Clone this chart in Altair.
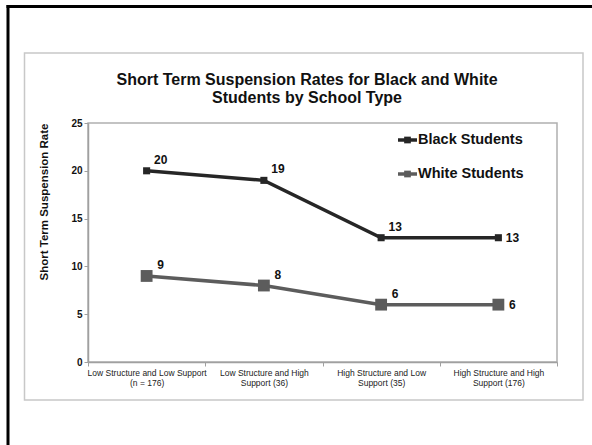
import altair as alt
import pandas as pd

# School-type categories, split over two label lines
category_line1 = ["Low Structure and Low Support", "Low Structure and High",
                  "High Structure and Low", "High Structure and High"]
category_line2 = ["(n = 176)", "Support (36)", "Support (35)", "Support (176)"]

series_names = ["Black Students", "White Students"]
black_rates = [20, 19, 13, 13]
white_rates = [9, 8, 6, 6]

series_colors = ["#262626", "#5c5c5c"]
marker_sizes = [50, 140]

categories = [a + "\n" + b for a, b in zip(category_line1, category_line2)]

rows = []
for name, values in zip(series_names, [black_rates, white_rates]):
    for i, (cat, v) in enumerate(zip(categories, values)):
        rows.append({"category": cat, "series": name, "rate": v,
                     "last": i == len(categories) - 1})
df = pd.DataFrame(rows)

FONT = "Liberation Sans"
W, H = 469, 239

x_enc = alt.X("category:N", sort=categories,
              scale=alt.Scale(type="band", paddingInner=0, paddingOuter=0),
              axis=alt.Axis(title=None, labelAngle=0, labelFont=FONT, labelFontSize=8.5,
                            labelColor="#222222", labelLimit=200,
                            labelExpr="split(datum.label, '\\n')", labelLineHeight=10,
                            tickBand="extent", tickSize=4, tickColor="#a0a0a0",
                            domainColor="#a0a0a0", domainWidth=1.5, labelPadding=2))
y_enc = alt.Y("rate:Q", scale=alt.Scale(domain=[0, 25], nice=False),
              axis=alt.Axis(values=[0, 5, 10, 15, 20, 25], grid=False,
                            title="Short Term Suspension Rate", titleFont=FONT,
                            titleFontSize=11.5, titleFontWeight="bold", titleColor="#111111",
                            titleAnchor="end", titlePadding=21,
                            labelFont=FONT, labelFontSize=10, labelFontWeight="bold",
                            labelColor="#111111", labelPadding=2,
                            tickSize=4, tickColor="#a0a0a0",
                            domainColor="#a0a0a0", domainWidth=1.5))
color_enc = alt.Color("series:N", scale=alt.Scale(domain=series_names, range=series_colors),
                      legend=None)

base = alt.Chart(df).encode(x=x_enc, y=y_enc, color=color_enc)

lines = base.mark_line(strokeWidth=3.5)
points = base.mark_square(opacity=1).encode(
    size=alt.Size("series:N", scale=alt.Scale(domain=series_names, range=marker_sizes),
                  legend=None))
labels_above = base.transform_filter("!datum.last").mark_text(
    font=FONT, fontSize=12, fontWeight="bold", dx=14, dy=-11, color="#111111"
).encode(text="rate:Q", color=alt.value("#111111"))
labels_right = base.transform_filter("datum.last").mark_text(
    font=FONT, fontSize=12, fontWeight="bold", dx=14, dy=0, color="#111111"
).encode(text="rate:Q", color=alt.value("#111111"))

blank = alt.Data(values=[{}])

# Frame: gray chart box and the black slide edges
chart_box = alt.Chart(blank).mark_rect(fill="white", fillOpacity=0, stroke="#c8c8c8",
                                       strokeWidth=1.5).encode(
    x=alt.value(-63.5), x2=alt.value(495), y=alt.value(-70), y2=alt.value(277))
top_edge = alt.Chart(blank).mark_rule(color="black", strokeWidth=3).encode(
    x=alt.value(-81.5), x2=alt.value(504), y=alt.value(-116.5))
left_edge = alt.Chart(blank).mark_rule(color="black", strokeWidth=3).encode(
    x=alt.value(-80), y=alt.value(-118), y2=alt.value(322))

title = alt.Chart(blank).mark_text(
    font=FONT, fontSize=16, fontWeight="bold", color="#111111", align="center",
    baseline="alphabetic", lineHeight=17.5
).encode(x=alt.value(219), y=alt.value(-38),
         text=alt.value(["Short Term Suspension Rates for Black and White",
                         "Students by School Type"]))

# Legend in the upper right of the plot
legend_layers = []
for i, (name, col) in enumerate(zip(series_names, series_colors)):
    ly = 17 + i * 34
    legend_layers.append(alt.Chart(blank).mark_rule(color=col, strokeWidth=3.5).encode(
        x=alt.value(310), x2=alt.value(329), y=alt.value(ly)))
    legend_layers.append(alt.Chart(blank).mark_square(color=col, size=45, opacity=1).encode(
        x=alt.value(319.5), y=alt.value(ly)))
    legend_layers.append(alt.Chart(blank).mark_text(
        font=FONT, fontSize=14.5, fontWeight="bold", color="#111111", align="left",
        baseline="middle").encode(x=alt.value(330), y=alt.value(ly), text=alt.value(name)))

chart = alt.layer(
    chart_box, top_edge, left_edge, title,
    lines, points, labels_above, labels_right, *legend_layers
).properties(
    width=W, height=H,
    autosize=alt.AutoSizeParams(type="none"),
    padding={"left": 88, "top": 123, "right": 35, "bottom": 83},
    background="white"
).configure_view(stroke="#b0b0b0", strokeWidth=1.5)

chart.save("out.html", embed_options={"renderer": "svg", "actions": False})
